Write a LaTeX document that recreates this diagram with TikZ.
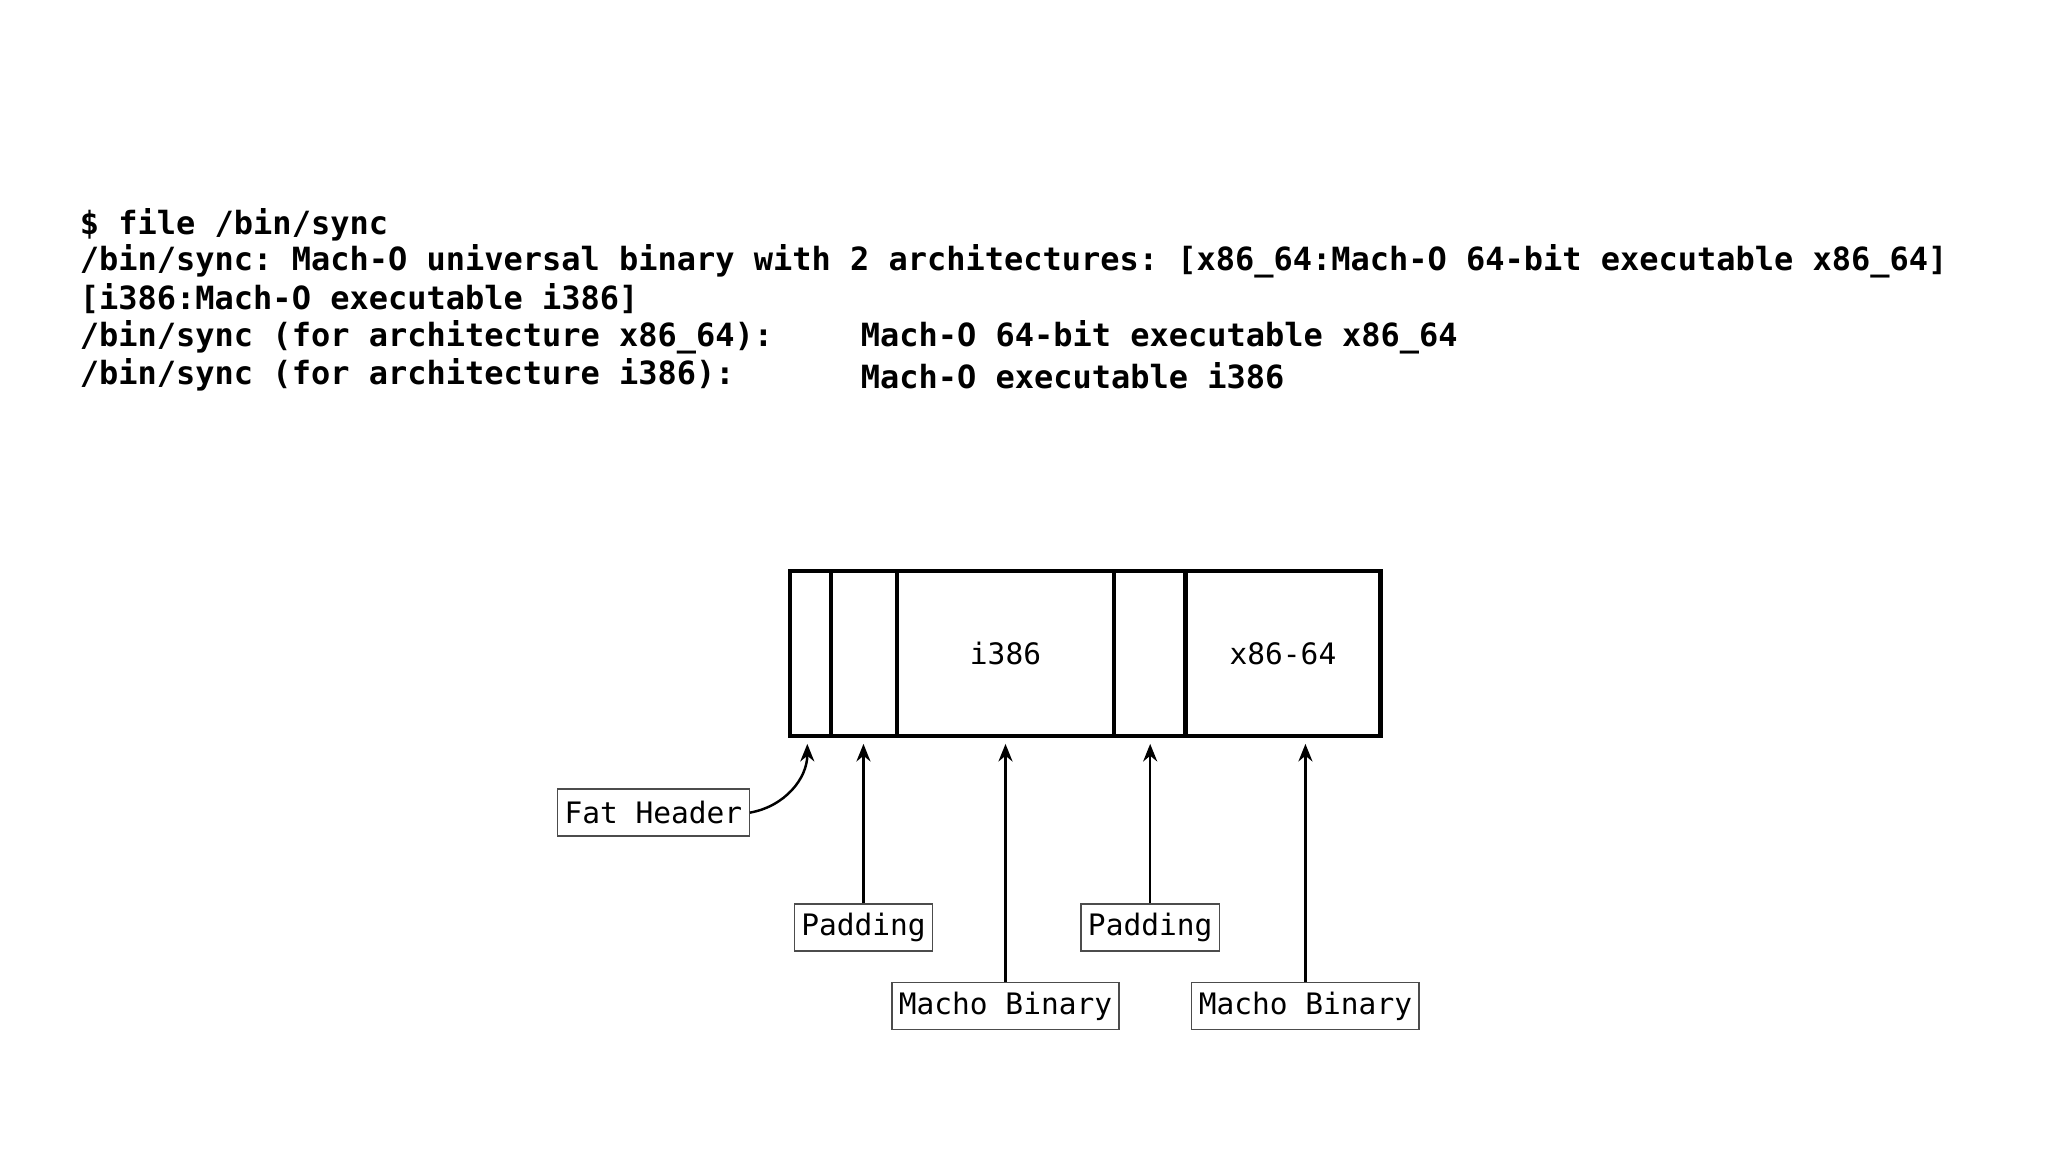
\documentclass[tikz,border=0pt]{standalone}
\usepackage{fontspec}
\setmonofont{DejaVu Sans Mono}
\usetikzlibrary{arrows.meta}
\tikzset{
  cmd/.style={anchor=west, font=\fontsize{9.1}{10}\selectfont\ttfamily\bfseries, inner sep=0},
  cell/.style={draw, line width=1.3pt, minimum height=1.65cm, inner sep=0},
  tag/.style={draw=black!70, thin, font=\fontsize{8.4}{10}\selectfont\ttfamily, minimum height=0.47cm, inner sep=2pt},
  ptr/.style={-{Stealth[length=5pt,width=4pt]}, line width=0.7pt}
}
\begin{document}
\begin{tikzpicture}[x=0.01321cm, y=-0.01321cm]
\useasboundingbox (0,0) rectangle (1550,872);

% terminal output
\node [cmd] (l1) at (60,170) {\$ file /bin/sync};
\node [cmd] (l2) at (60,198) {/bin/sync: Mach-O universal binary with 2 architectures: [x86\_64:Mach-O 64-bit executable x86\_64]};
\node [cmd] (l3) at (60,226) {[i386:Mach-O executable i386]};
\node [cmd] (l4) at (60,255) {/bin/sync (for architecture x86\_64):};
\node [cmd] (l4b) at (651,255) {Mach-O 64-bit executable x86\_64};
\node [cmd] (l5) at (60,284) {/bin/sync (for architecture i386):};
\node [cmd] (l5b) at (651,284) {Mach-O executable i386};

% fat file layout
\node [cell, minimum width=0.41cm] (hdr)  at (613.5,494.5) {};
\node [cell, minimum width=0.66cm] (pad1) at (654,494.5) {};
\node [cell, minimum width=2.17cm, font=\fontsize{8.4}{10}\selectfont\ttfamily] (bin1) at (761,494.5) {i386};
\node [cell, minimum width=0.71cm] (pad2) at (870,494.5) {};
\node [cell, minimum width=1.95cm, font=\fontsize{8.4}{10}\selectfont\ttfamily] (bin2) at (971,494.5) {x86-64};

% labels
\node [tag] (fat)   at (494.5,615) {Fat Header};
\node [tag] (tpad1) at (653.5,702) {Padding};
\node [tag] (tpad2) at (870.5,702) {Padding};
\node [tag] (tbin1) at (761,761.5) {Macho Binary};
\node [tag] (tbin2) at (988,761.5) {Macho Binary};

\coordinate (a0) at (611,563);
\draw [ptr] (fat.east) to [out=10, in=-90] (a0);
\draw [ptr] (tpad1.north) -- (tpad1.north |- a0);
\draw [ptr] (tbin1.north) -- (tbin1.north |- a0);
\draw [ptr] (tpad2.north) -- (tpad2.north |- a0);
\draw [ptr] (tbin2.north) -- (tbin2.north |- a0);

\end{tikzpicture}
\end{document}
